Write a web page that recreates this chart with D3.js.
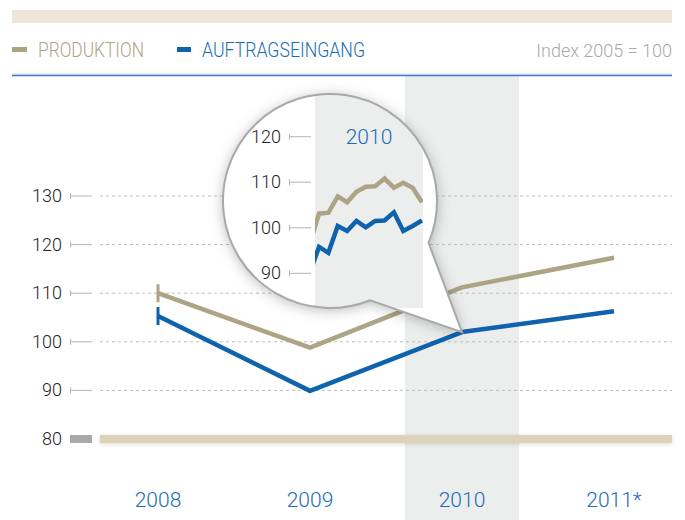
<!DOCTYPE html>
<html>
<head>
<meta charset="utf-8">
<script src="https://cdn.jsdelivr.net/npm/d3@7"></script>
<style>
  body { margin: 0; background: #fff; }
  svg { display: block; font-family: Roboto, "Liberation Sans", Arial, sans-serif; font-weight: 300; }
</style>
</head>
<body>
<div id="chart"></div>
<script>
// yearly index values (2005 = 100)
const years = ["2008", "2009", "2010", "2011*"];
const produktion = [110, 98.8, 111.2, 117.3];
const auftrag = [105.3, 89.9, 102, 106.3];
const yTicks = [80, 90, 100, 110, 120, 130];

// monthly values 2010 (first entry = Dec 2009)
const months = [-1, 0, 1, 2, 3, 4, 5, 6, 7, 8, 9, 10, 11];
const prodMonthly = [96.3, 103.1, 103.3, 106.9, 105.6, 107.9, 109.0, 109.1, 110.8, 108.8, 109.9, 108.8, 105.6];
const auftragMonthly = [90, 95.8, 94.5, 100.4, 99.3, 101.5, 100.1, 101.5, 101.6, 103.4, 99.3, 100.4, 101.6];
const zoomTicks = [90, 100, 110, 120];

const colProd = "#ada385", colBlue = "#0f63ad", colShade = "#eceeee";

const width = 685, height = 520;
const svg = d3.select("#chart").append("svg")
  .attr("width", width).attr("height", height);

const defs = svg.append("defs");
const shadow = defs.append("filter").attr("id", "shadow")
  .attr("x", "-30%").attr("y", "-30%").attr("width", "160%").attr("height", "160%");
shadow.append("feDropShadow").attr("dx", 0).attr("dy", 2)
  .attr("stdDeviation", 7).attr("flood-color", "#000").attr("flood-opacity", 0.28);
const soft = defs.append("filter").attr("id", "soft")
  .attr("x", "-5%").attr("y", "-100%").attr("width", "110%").attr("height", "300%");
soft.append("feDropShadow").attr("dx", 0).attr("dy", 1)
  .attr("stdDeviation", 2).attr("flood-color", "#000").attr("flood-opacity", 0.15);

// scales
const x = d3.scalePoint().domain(years).range([82, 690]).padding(0.5);
const step = x.step();
const y = d3.scaleLinear().domain([80, 130]).range([439, 196]);

// top band and header
svg.append("rect").attr("x", 12).attr("y", 10).attr("width", 660).attr("height", 13).attr("fill", "#ede6d9");

const legend = svg.append("g");
legend.append("rect").attr("x", 12).attr("y", 47).attr("width", 15).attr("height", 5).attr("fill", colProd);
legend.append("text").attr("x", 38).attr("y", 57).attr("font-size", 20).attr("fill", colProd)
  .attr("textLength", 106).attr("lengthAdjust", "spacingAndGlyphs").text("PRODUKTION");
legend.append("rect").attr("x", 177).attr("y", 47).attr("width", 14).attr("height", 5).attr("fill", colBlue);
legend.append("text").attr("x", 202).attr("y", 57).attr("font-size", 20).attr("fill", "#1a6cb6")
  .attr("textLength", 163).attr("lengthAdjust", "spacingAndGlyphs").text("AUFTRAGSEINGANG");
legend.append("text").attr("x", 672).attr("y", 57).attr("text-anchor", "end").attr("font-size", 18)
  .attr("fill", "#a8a8a8").text("Index 2005 = 100");

// 2010 shading
svg.append("rect").attr("x", x("2010") - step * 0.375).attr("y", 76)
  .attr("width", step * 0.75).attr("height", height - 76).attr("fill", colShade);

svg.append("line").attr("x1", 12).attr("x2", 672).attr("y1", 74).attr("y2", 74)
  .attr("stroke", "#cfe0f0").attr("stroke-width", 1);
svg.append("line").attr("x1", 12).attr("x2", 672).attr("y1", 75.5).attr("y2", 75.5)
  .attr("stroke", "#3a7cbf").attr("stroke-width", 1.5);

// y axis
const grid = svg.append("g");
yTicks.filter(v => v > 80).forEach(v => {
  grid.append("line").attr("x1", 100).attr("x2", 672).attr("y1", y(v)).attr("y2", y(v))
    .attr("stroke", "#bdbdbd").attr("stroke-dasharray", "3,3");
  grid.append("line").attr("x1", 70).attr("x2", 92).attr("y1", y(v)).attr("y2", y(v))
    .attr("stroke", "#b5b5b5").attr("stroke-width", 1);
  grid.append("line").attr("x1", 70.5).attr("x2", 70.5).attr("y1", y(v) - 3).attr("y2", y(v) + 3)
    .attr("stroke", "#b5b5b5").attr("stroke-width", 1);
});
yTicks.forEach(v => {
  grid.append("text").attr("x", 62).attr("y", y(v) + 6).attr("text-anchor", "end")
    .attr("font-size", 18).attr("fill", "#1e1e1e").text(v);
});
// baseline 80
grid.append("rect").attr("x", 70).attr("y", y(80) - 4).attr("width", 22).attr("height", 8).attr("fill", "#a9a9a9");
grid.append("rect").attr("x", 100).attr("y", y(80) - 4).attr("width", 572).attr("height", 8)
  .attr("fill", "#dcd3b8").attr("filter", "url(#soft)");

// main lines
const line = d3.line().x((d, i) => x(years[i])).y(d => y(d));
[[produktion, colProd], [auftrag, colBlue]].forEach(([vals, col]) => {
  svg.append("path").attr("d", line(vals)).attr("fill", "none")
    .attr("stroke", col).attr("stroke-width", 4.5).attr("stroke-linejoin", "round");
  svg.append("line").attr("x1", x(years[0])).attr("x2", x(years[0]))
    .attr("y1", y(vals[0]) - 9).attr("y2", y(vals[0]) + 9)
    .attr("stroke", col).attr("stroke-width", 3);
});

// x labels
years.forEach(yr => {
  svg.append("text").attr("x", x(yr)).attr("y", 507).attr("text-anchor", "middle")
    .attr("font-size", 21).attr("fill", "#1a6cb6").text(yr);
});

// magnifier
const cx = 330, cy = 201, R = 107;
const tip = [x("2010"), y(auftrag[2])];
const a1 = 23 * Math.PI / 180, a2 = 68 * Math.PI / 180;
const p1 = [cx + R * Math.cos(a1), cy + R * Math.sin(a1)];
const p2 = [cx + R * Math.cos(a2), cy + R * Math.sin(a2)];
const lens = `M${p1[0]},${p1[1]} A${R},${R} 0 1 0 ${p2[0]},${p2[1]} L${tip[0]},${tip[1]} Z`;

const mag = svg.append("g");
mag.append("path").attr("d", lens).attr("fill", "#fff").attr("filter", "url(#shadow)");
defs.append("clipPath").attr("id", "lensClip").append("path").attr("d", lens);
const inner = mag.append("g").attr("clip-path", "url(#lensClip)");

const mx = d3.scaleLinear().domain([0, 11]).range([319, 422]);
const my = d3.scaleLinear().domain([90, 120]).range([273.3, 136.7]);
const shadeX0 = 315, shadeX1 = 423;
inner.append("rect").attr("x", shadeX0).attr("y", cy - R).attr("width", shadeX1 - shadeX0)
  .attr("height", 2 * R).attr("fill", colShade);
defs.append("clipPath").attr("id", "shadeClip").append("rect")
  .attr("x", shadeX0).attr("y", cy - R).attr("width", shadeX1 - shadeX0).attr("height", 2 * R);

const mline = d3.line().x((d, i) => mx(months[i])).y(d => my(d));
const lines = inner.append("g").attr("clip-path", "url(#shadeClip)");
[[prodMonthly, colProd], [auftragMonthly, colBlue]].forEach(([vals, col]) => {
  lines.append("path").attr("d", mline(vals)).attr("fill", "none")
    .attr("stroke", col).attr("stroke-width", 4.5).attr("stroke-linejoin", "miter");
});
zoomTicks.forEach(v => {
  inner.append("line").attr("x1", 289).attr("x2", 311).attr("y1", my(v)).attr("y2", my(v))
    .attr("stroke", "#b5b5b5");
  inner.append("line").attr("x1", 289.5).attr("x2", 289.5).attr("y1", my(v) - 3).attr("y2", my(v) + 3)
    .attr("stroke", "#b5b5b5");
  inner.append("text").attr("x", 281).attr("y", my(v) + 6).attr("text-anchor", "end")
    .attr("font-size", 18).attr("fill", "#1e1e1e").text(v);
});
inner.append("text").attr("x", (shadeX0 + shadeX1) / 2).attr("y", 137 + 7).attr("text-anchor", "middle")
  .attr("font-size", 21).attr("fill", "#1a6cb6").text("2010");

mag.append("path").attr("d", lens).attr("fill", "none").attr("stroke", "#a9a9a9").attr("stroke-width", 2)
  .attr("stroke-linejoin", "miter");
</script>
</body>
</html>
